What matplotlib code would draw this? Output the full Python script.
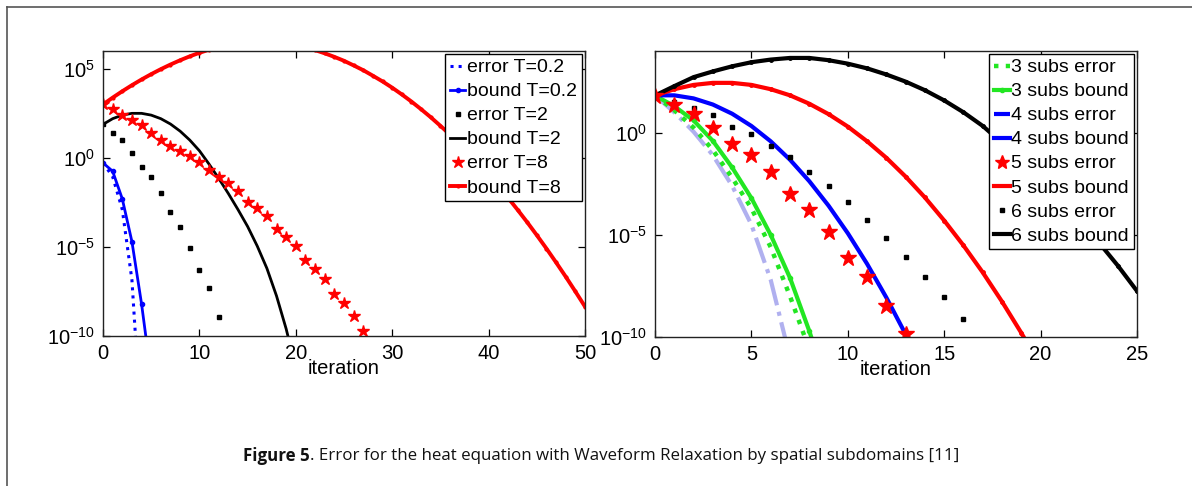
import numpy as np
import matplotlib
matplotlib.use("Agg")
import matplotlib.pyplot as plt
from matplotlib.lines import Line2D

plt.rcParams['font.family'] = ['Liberation Sans', 'DejaVu Sans']
plt.rcParams['mathtext.fontset'] = 'custom'
plt.rcParams['mathtext.rm'] = 'Liberation Sans'
plt.rcParams['mathtext.it'] = 'Liberation Sans:italic'
plt.rcParams['mathtext.default'] = 'regular'

# ---------------- data (log10 of the error / bound) ----------------
# Left panel: different time windows T
it_err_02 = [0, 1, 2, 3, 4]
err_02 = [-0.28, -1.05, -2.9, -6.85, -15.4]
it_bnd_02 = [0, 1, 2, 3, 4, 5]
bnd_02 = [-0.28, -0.75, -2.3, -4.7, -8.2, -12.3]

it_err_2 = list(range(0, 13))
err_2 = [1.88, 1.41, 0.99, 0.28, -0.51, -1.07, -1.99, -3.06, -3.88, -5.07, -6.32, -7.32, -8.91]
it_bnd_2 = list(range(0, 21))
bnd_2 = [1.88, 2.2, 2.4, 2.5, 2.5, 2.4, 2.2, 1.9, 1.5, 1.0, 0.4, -0.35, -1.15, -2.0, -2.9,
         -3.85, -4.95, -6.2, -7.75, -9.6, -11.8]

it_err_8 = list(range(0, 28))
err_8 = [3.0, 2.72, 2.38, 2.12, 1.82, 1.41, 0.99, 0.69, 0.38, 0.09, -0.24, -0.66, -1.07, -1.41,
         -1.88, -2.48, -2.81, -3.28, -4.0, -4.45, -4.97, -5.72, -6.25, -6.81, -7.65, -8.16, -8.87, -9.7]
it_bnd_8 = list(range(0, 51))
bnd_8 = [3.0, 3.38, 3.74, 4.08, 4.4, 4.7, 4.98, 5.24, 5.48, 5.7, 5.9, 6.07, 6.22, 6.35, 6.45, 6.53,
         6.58, 6.56, 6.51, 6.43, 6.33, 6.2, 6.05, 5.87, 5.67, 5.45, 5.19, 4.92, 4.61, 4.29, 3.94,
         3.56, 3.16, 2.73, 2.28, 1.8, 1.3, 0.77, 0.22, -0.35, -0.96, -1.58, -2.23, -2.91, -3.61,
         -4.34, -5.09, -5.87, -6.67, -7.5, -8.35]

# Right panel: number of subdomains
it_err_s3 = list(range(0, 9))
err_s3 = [1.82, 1.1, 0.25, -0.85, -2.2, -3.7, -5.6, -8.0, -10.6]
it_bnd_s3 = list(range(0, 10))
bnd_s3 = [1.82, 1.3, 0.6, -0.4, -1.7, -3.2, -5.0, -7.1, -9.7, -12.6]

it_err_s4 = list(range(0, 8))
err_s4 = [1.82, 1.0, 0.05, -1.1, -2.6, -4.5, -7.2, -11.0]
it_bnd_s4 = list(range(0, 15))
bnd_s4 = [1.83, 1.83, 1.68, 1.38, 0.93, 0.33, -0.42, -1.32, -2.37, -3.57, -4.92, -6.42, -8.07,
          -9.87, -11.8]

it_err_s5 = list(range(0, 14))
err_s5 = [1.82, 1.38, 0.94, 0.24, -0.54, -1.09, -1.92, -3.0, -3.77, -4.88, -6.15, -7.07, -8.46, -9.84]
it_bnd_s5 = list(range(0, 21))
bnd_s5 = [1.82, 2.13, 2.34, 2.44, 2.44, 2.34, 2.13, 1.83, 1.42, 0.91, 0.30, -0.42, -1.23, -2.15,
          -3.17, -4.30, -5.52, -6.84, -8.27, -9.80, -11.43]

it_err_s6 = list(range(0, 17))
err_s6 = [1.82, 1.5, 1.22, 0.85, 0.29, -0.05, -0.65, -1.19, -1.92, -2.63, -3.41, -4.28, -5.17,
          -6.07, -7.04, -8.05, -9.11]
it_bnd_s6 = list(range(0, 26))
bnd_s6 = [1.82, 2.28, 2.72, 3.0, 3.25, 3.45, 3.58, 3.66, 3.66, 3.55, 3.38, 3.15, 2.85, 2.5, 2.08,
          1.58, 1.0, 0.33, -0.5, -1.35, -2.27, -3.25, -4.28, -5.35, -6.5, -7.75]

left_labels = ['error T=0.2', 'bound T=0.2', 'error T=2', 'bound T=2', 'error T=8', 'bound T=8']
right_labels = ['3 subs error', '3 subs bound', '4 subs error', '4 subs bound',
                '5 subs error', '5 subs bound', '6 subs error', '6 subs bound']
caption_bold = 'Figure 5'
caption_rest = '. Error for the heat equation with Waveform Relaxation by spatial subdomains [11]'

# ---------------- figure ----------------
W, H = 1192, 486
fig = plt.figure(figsize=(W / 100, H / 100), dpi=100)

def p(v):
    return 10.0 ** np.asarray(v, dtype=float)

RED = '#ff0000'
BLUE = '#0000ff'
GREEN = '#22e622'
PALE = '#a8a8ee'

def style(ax, xmax, ymin, ymax, xticks):
    ax.set_yscale('log')
    ax.set_xlim(0, xmax)
    ax.set_xticks(xticks)
    ax.set_yticks([1e-10, 1e-5, 1e0, 1e5])
    ax.set_ylim(ymin, ymax)
    ax.minorticks_off()
    ax.tick_params(direction='in', top=True, right=True, length=5, width=0.9,
                   labelsize=14.5, pad=6)
    for s in ax.spines.values():
        s.set_linewidth(1.0)
        s.set_color('#222222')
    ax.set_xlabel('iteration', fontsize=14.5, labelpad=-3)

LEG = dict(loc='upper right', fontsize=14, frameon=True, fancybox=False,
           edgecolor='black', framealpha=1, borderaxespad=0.15, borderpad=0.25,
           labelspacing=0.33, handlelength=0.8, handletextpad=0.1, numpoints=1)

# ---- left
axL = fig.add_axes([103 / W, 1 - 336 / H, (585 - 103) / W, (336 - 51) / H])
axL.plot(it_err_02, p(err_02), ls=':', color=BLUE, lw=2.2, label=left_labels[0])
axL.plot(it_bnd_02, p(bnd_02), ls='-', color=BLUE, lw=2.0, marker='.', ms=6, label=left_labels[1])
axL.plot(it_err_2, p(err_2), ls='none', color='black', marker='s', ms=3.5, label=left_labels[2])
axL.plot(it_bnd_2, p(bnd_2), ls='-', color='black', lw=2.0, label=left_labels[3])
axL.plot(it_err_8, p(err_8), ls='none', color=RED, marker='*', ms=9, label=left_labels[4])
axL.plot(it_bnd_8, p(bnd_8), ls='-', color=RED, lw=2.8, marker='.', ms=4, label=left_labels[5])
style(axL, 50, 1e-10, 1e6, [0, 10, 20, 30, 40, 50])
legL = axL.legend(**LEG)
legL.get_frame().set_linewidth(1.0)

# ---- right
axR = fig.add_axes([655 / W, 1 - 337 / H, (1137 - 655) / W, (337 - 51) / H])
axR.plot(it_err_s4, p(err_s4), ls='-.', color=PALE, lw=3.0, alpha=0.9)
axR.plot(it_err_s3, p(err_s3), ls=':', color=GREEN, lw=3.2)
axR.plot(it_bnd_s3, p(bnd_s3), ls='-', color=GREEN, lw=3.0, marker='.', ms=6)
axR.plot(it_bnd_s4, p(bnd_s4), ls='-', color=BLUE, lw=3.0)
axR.plot(it_err_s6, p(err_s6), ls='none', color='black', marker='s', ms=3.5)
axR.plot(it_bnd_s5, p(bnd_s5), ls='-', color=RED, lw=3.0, marker='.', ms=5)
axR.plot(it_bnd_s6, p(bnd_s6), ls='-', color='black', lw=3.0, marker='.', ms=5)
axR.plot(it_err_s5, p(err_s5), ls='none', color=RED, marker='*', ms=12)
style(axR, 25, 1e-10, 1e4, [0, 5, 10, 15, 20, 25])

handlesR = [
    Line2D([], [], ls=':', color=GREEN, lw=3.2),
    Line2D([], [], ls='-', color=GREEN, lw=3.0, marker='.', ms=6),
    Line2D([], [], ls='-.', color=BLUE, lw=3.0),
    Line2D([], [], ls='-', color=BLUE, lw=3.0),
    Line2D([], [], ls='none', color=RED, marker='*', ms=10),
    Line2D([], [], ls='-', color=RED, lw=3.0),
    Line2D([], [], ls='none', color='black', marker='s', ms=3.5),
    Line2D([], [], ls='-', color='black', lw=3.0),
]
legR = axR.legend(handlesR, right_labels, **LEG)
legR.get_frame().set_linewidth(1.0)

# ---- outer frame (left and top edges)
fig.add_artist(Line2D([7 / W, 7 / W], [0, 1 - 7 / H], transform=fig.transFigure,
                      color='#555555', lw=1.2))
fig.add_artist(Line2D([7 / W, 1], [1 - 7 / H, 1 - 7 / H], transform=fig.transFigure,
                      color='#555555', lw=1.2))

# ---- caption (bold + regular, centred)
cap_y = 1 - 456 / H
cap_kw = dict(fontsize=12.2, family=['Open Sans', 'DejaVu Sans'], va='center', color='#111111')
fig.canvas.draw()
r = fig.canvas.get_renderer()
t1 = fig.text(0, cap_y, caption_bold, weight='bold', **cap_kw)
t2 = fig.text(0, cap_y, caption_rest, **cap_kw)
w1 = t1.get_window_extent(r).width
w2 = t2.get_window_extent(r).width
x0 = (601 - (w1 + w2) / 2) / W
t1.set_x(x0)
t2.set_x(x0 + w1 / W)

fig.savefig('out.png', dpi=100)
